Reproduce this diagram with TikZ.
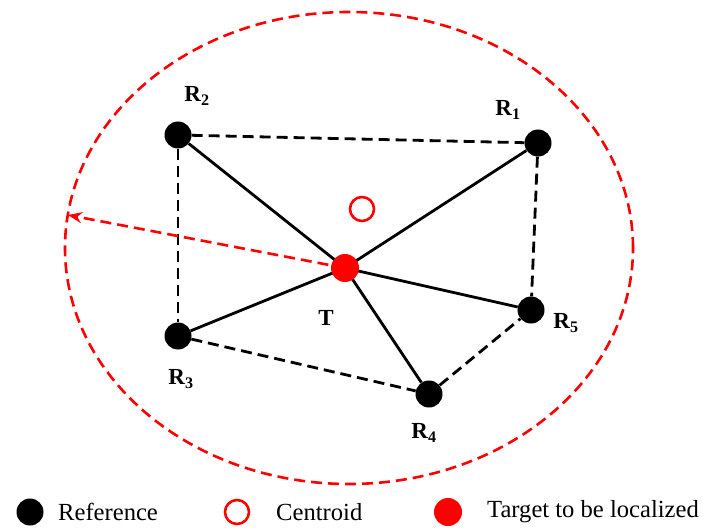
\documentclass[tikz,border=0pt]{standalone}
\usepackage{fontspec}
\setmainfont{Liberation Serif}
\usetikzlibrary{arrows.meta}
\begin{document}
\begin{tikzpicture}[
            x=1pt,y=-1pt,
            refnode/.style={circle,fill=black,minimum size=27pt,inner sep=0pt},
            target/.style={circle,fill=red,minimum size=28pt,inner sep=0pt},
            centroid/.style={circle,draw=red,line width=2.6pt,minimum size=24pt,inner sep=0pt},
            link/.style={line width=2.8pt},
            hop/.style={line width=2.8pt,dash pattern=on 11pt off 6pt},
            lbl/.style={font=\fontsize{23}{26}\selectfont\bfseries,inner sep=0pt},
            legtext/.style={font=\fontsize{24.6}{28}\selectfont,anchor=west,inner sep=0pt}
        ]

        \useasboundingbox (0,0) rectangle (703,529);

        % range of the target
        \draw[red,line width=2.6pt,dash pattern=on 11pt off 6pt]
            (349,248) ellipse [x radius=284pt, y radius=236pt];

        % nodes
        \node[refnode] (r1) at (538,143) {};
        \node[refnode] (r2) at (178,135) {};
        \node[refnode] (r3) at (178,336) {};
        \node[refnode] (r4) at (429,394) {};
        \node[refnode] (r5) at (531,310) {};
        \node[centroid] (c) at (362,209) {};
        \coordinate (rim) at (68,215);

        % neighbour links
        \draw[hop] (r2) -- (r1);
        \draw[hop] (r2) -- (r3);
        \draw[hop] (r1) -- (r5);
        \draw[hop] (r3) -- (r4);
        \draw[hop] (r4) -- (r5);

        % links to target
        \foreach \r in {r1,r2,r3,r4,r5}
            \draw[link] (345,268) -- (\r);

        \draw[red,line width=2.6pt,dash pattern=on 11pt off 6pt,-{Stealth[length=14pt,width=11pt]}]
            (345,268) -- (rim);
        \node[target] (t) at (345,268) {};

        % labels
        \node[lbl] (l1) at (508,110) {R\textsubscript{1}};
        \node[lbl] (l2) at (197,96) {R\textsubscript{2}};
        \node[lbl] (l3) at (181,379) {R\textsubscript{3}};
        \node[lbl] (l4) at (424,433) {R\textsubscript{4}};
        \node[lbl] (l5) at (566,323) {R\textsubscript{5}};
        \node[lbl] (lt) at (326,318) {T};

        % legend
        \node[refnode] (k1) at (30,512) {};
        \node[legtext] (k1t) at (58,512) {Reference};
        \node[centroid] (k2) at (237,512) {};
        \node[legtext] (k2t) at (276,512) {Centroid};
        \node[target] (k3) at (448,512) {};
        \node[legtext] (k3t) at (487,512) {Target to be localized};

    \end{tikzpicture}
\end{document}
